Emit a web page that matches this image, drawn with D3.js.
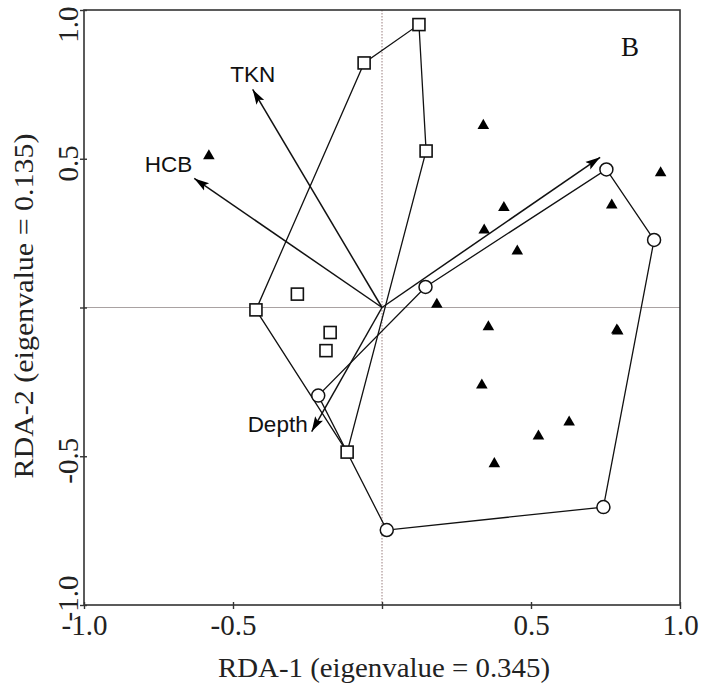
<!DOCTYPE html>
<html>
<head>
<meta charset="utf-8">
<script src="https://cdn.jsdelivr.net/npm/d3@7"></script>
<style>
  html, body { margin: 0; padding: 0; background: #fff; }
  svg { display: block; }
</style>
</head>
<body>
<svg id="chart" width="702" height="686"></svg>
<script>
// ---------- data ----------
const squareX = [-0.423, -0.060, 0.124, 0.148, -0.117, -0.284, -0.174, -0.188];
const squareY = [-0.008, 0.822, 0.951, 0.526, -0.486, 0.045, -0.084, -0.145];
const squareHull = [0, 1, 2, 3, 4];

const circleX = [0.146, 0.753, 0.913, 0.743, 0.016, -0.214];
const circleY = [0.069, 0.464, 0.227, -0.671, -0.748, -0.296];
const circleHull = [0, 1, 2, 3, 4, 5];

const triangleX = [-0.581, 0.340, 0.935, 0.409, 0.771, 0.343, 0.454, 0.184, 0.357, 0.788, 0.791, 0.335, 0.628, 0.525, 0.377];
const triangleY = [0.513, 0.615, 0.456, 0.339, 0.347, 0.263, 0.193, 0.014, -0.062, -0.073, -0.076, -0.258, -0.382, -0.429, -0.522];

const arrowNames = ["TKN", "HCB", "Depth", ""];
const arrowX = [-0.434, -0.630, -0.236, 0.732];
const arrowY = [0.733, 0.434, -0.417, 0.505];

const xTickValues = [-1, -0.5, 0, 0.5, 1];
const xTickLabels = ["-1.0", "-0.5", "", "0.5", "1.0"];
const yTickValues = [-1, -0.5, 0, 0.5, 1];
const yTickLabels = ["-1.0", "-0.5", "", "0.5", "1.0"];

const xTitle = "RDA-1 (eigenvalue = 0.345)";
const yTitle = "RDA-2 (eigenvalue = 0.135)";
const panelLabel = "B";

// ---------- layout ----------
const svg = d3.select("#chart");
const L = 84, R = 680, T = 10, B = 605;
const x = d3.scaleLinear().domain([-1, 1]).range([L, R]);
const y = d3.scaleLinear().domain([-1, 1]).range([B, T]);
const serif = "'Liberation Serif','Times New Roman',Times,serif";
const sans = "'Liberation Sans',Arial,Helvetica,sans-serif";

svg.append("rect").attr("width", 702).attr("height", 686).attr("fill", "#fff");

// zero lines
svg.append("line")
  .attr("x1", x(-1)).attr("x2", x(1)).attr("y1", y(0)).attr("y2", y(0))
  .attr("stroke", "#a9a2a2").attr("stroke-width", 1);
svg.append("line")
  .attr("x1", x(0)).attr("x2", x(0)).attr("y1", y(1)).attr("y2", y(-1))
  .attr("stroke", "#9a7f7f").attr("stroke-width", 1).attr("stroke-dasharray", "1.5,1.5");

// frame
svg.append("rect")
  .attr("x", L).attr("y", T).attr("width", R - L).attr("height", B - T)
  .attr("fill", "none").attr("stroke", "#333").attr("stroke-width", 1.6);

// axes
const xAxis = svg.append("g").attr("transform", `translate(0,${B})`)
  .call(d3.axisBottom(x).tickValues(xTickValues).tickSizeInner(4).tickSizeOuter(0)
    .tickFormat((d, i) => xTickLabels[i]));
xAxis.select(".domain").remove();
xAxis.selectAll(".tick line").attr("y1", -3).attr("y2", 4).attr("stroke", "#333").attr("stroke-width", 1.4);
xAxis.selectAll(".tick text")
  .attr("y", 30).attr("dy", 0)
  .attr("font-family", serif).attr("font-size", 29).attr("fill", "#222");

const yAxis = svg.append("g").attr("transform", `translate(${L},0)`)
  .call(d3.axisLeft(y).tickValues(yTickValues).tickSizeInner(4).tickSizeOuter(0)
    .tickFormat((d, i) => yTickLabels[i]));
yAxis.select(".domain").remove();
yAxis.selectAll(".tick line").attr("x1", -4).attr("x2", 3).attr("stroke", "#333").attr("stroke-width", 1.4);
yAxis.selectAll(".tick text")
  .attr("font-family", serif).attr("font-size", 29).attr("fill", "#222")
  .attr("text-anchor", "middle").attr("dy", 0).attr("x", null).attr("y", null)
  .each(function(d) {
    const t = d3.select(this);
    const w = this.getComputedTextLength();
    let c = y(d) + 4;                // desired centre (screen y)
    if (c - w / 2 < 6) c = 6 + w / 2;
    if (c + w / 2 > 621) c = 621 - w / 2;
    const off = c - y(d);
    t.attr("transform", `translate(-6,${off}) rotate(-90)`);
  });

// titles
svg.append("text").text(xTitle)
  .attr("x", 384).attr("y", 677).attr("text-anchor", "middle")
  .attr("font-family", serif).attr("font-size", 27).attr("fill", "#222")
  .attr("textLength", 332).attr("lengthAdjust", "spacingAndGlyphs");
svg.append("text").text(yTitle)
  .attr("transform", "translate(33,306) rotate(-90)").attr("text-anchor", "middle")
  .attr("font-family", serif).attr("font-size", 27).attr("fill", "#222")
  .attr("textLength", 345).attr("lengthAdjust", "spacingAndGlyphs");
svg.append("text").text(panelLabel)
  .attr("x", 621).attr("y", 56)
  .attr("font-family", serif).attr("font-size", 27).attr("fill", "#111");

// hull polygons
const line = d3.line();
const sqHullPts = squareHull.map(i => [x(squareX[i]), y(squareY[i])]);
const ciHullPts = circleHull.map(i => [x(circleX[i]), y(circleY[i])]);
svg.append("path").attr("d", line(sqHullPts) + "Z")
  .attr("fill", "none").attr("stroke", "#111").attr("stroke-width", 1.3);
svg.append("path").attr("d", line(ciHullPts) + "Z")
  .attr("fill", "none").attr("stroke", "#111").attr("stroke-width", 1.3);

// arrows
svg.append("defs").append("marker")
  .attr("id", "ah").attr("markerUnits", "userSpaceOnUse")
  .attr("markerWidth", 16).attr("markerHeight", 12)
  .attr("viewBox", "0 -6 16 12").attr("refX", 15).attr("refY", 0)
  .attr("orient", "auto")
  .append("path").attr("d", "M0,-4.5L15,0L0,4.5L3,0Z").attr("fill", "#000");

svg.append("g").selectAll("line").data(arrowX).join("line")
  .attr("x1", x(0)).attr("y1", y(0))
  .attr("x2", (d, i) => x(arrowX[i])).attr("y2", (d, i) => y(arrowY[i]))
  .attr("stroke", "#111").attr("stroke-width", 1.5)
  .attr("marker-end", "url(#ah)");

// arrow labels
const labelPos = {
  "TKN":   { dx: 0,   dy: -7,  anchor: "middle" },
  "HCB":   { dx: -2,  dy: -6,  anchor: "end" },
  "Depth": { dx: -4,  dy: 0,   anchor: "end" }
};
svg.append("g").selectAll("text").data(arrowNames.filter(n => n)).join("text")
  .text(d => d)
  .attr("x", d => { const i = arrowNames.indexOf(d); return x(arrowX[i]) + labelPos[d].dx; })
  .attr("y", d => { const i = arrowNames.indexOf(d); return y(arrowY[i]) + labelPos[d].dy; })
  .attr("text-anchor", d => labelPos[d].anchor)
  .attr("font-family", sans).attr("font-size", 22.5).attr("fill", "#111");

// markers
svg.append("g").selectAll("rect").data(squareX).join("rect")
  .attr("x", (d, i) => x(squareX[i]) - 6).attr("y", (d, i) => y(squareY[i]) - 6)
  .attr("width", 12).attr("height", 12)
  .attr("fill", "#fff").attr("stroke", "#111").attr("stroke-width", 1.6);

svg.append("g").selectAll("circle").data(circleX).join("circle")
  .attr("cx", (d, i) => x(circleX[i])).attr("cy", (d, i) => y(circleY[i]))
  .attr("r", 6.5)
  .attr("fill", "#fff").attr("stroke", "#111").attr("stroke-width", 1.5);

const tri = d3.symbol().type(d3.symbolTriangle).size(58);
svg.append("g").selectAll("path").data(triangleX).join("path")
  .attr("d", tri)
  .attr("transform", (d, i) => `translate(${x(triangleX[i])},${y(triangleY[i]) + 1})`)
  .attr("fill", "#000");
</script>
</body>
</html>
